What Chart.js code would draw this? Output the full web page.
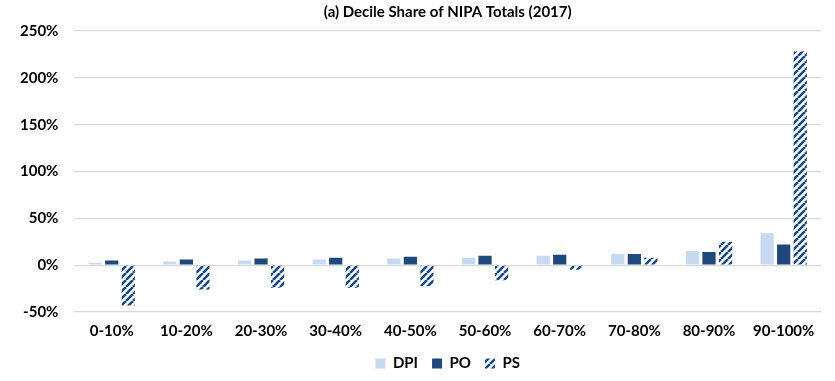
<!DOCTYPE html>
<html>
<head>
<meta charset="utf-8">
<script src="https://cdn.jsdelivr.net/npm/chart.js@4.4.1/dist/chart.umd.min.js"></script>
<style>
  html, body { margin:0; padding:0; background:#fff; }
  #wrap { width:835px; height:381px; }
</style>
</head>
<body>
<div id="wrap"><canvas id="chart" width="835" height="381"></canvas></div>
<script>
const deciles = ['0-10%','10-20%','20-30%','30-40%','40-50%','50-60%','60-70%','70-80%','80-90%','90-100%'];
const dpiShare = [2.5, 4, 5, 6, 7, 8, 10, 12, 15, 34];
const poShare  = [5, 6, 7, 8, 9, 10, 11, 12, 14, 22];
const psShare  = [-43, -26, -24, -24, -22.5, -16, -5, 8, 25, 228];
const yTicks = [-50, 0, 50, 100, 150, 200, 250];

const lightBlue = '#c6d9f0';
const navy = '#1f497d';
const font = 'Lato, "Liberation Sans", sans-serif';

// diagonal stripe fill like Excel's wide upward diagonal
function stripes() {
  const c = document.createElement('canvas');
  const s = 7;
  c.width = s; c.height = s;
  const g = c.getContext('2d');
  g.fillStyle = '#fff';
  g.fillRect(0, 0, s, s);
  g.strokeStyle = navy;
  g.lineWidth = 2.6;
  g.beginPath();
  for (let k = -1; k <= 1; k++) {
    g.moveTo(k * s, s);
    g.lineTo(k * s + s, 0);
  }
  g.stroke();
  return g.createPattern(c, 'repeat');
}
const hatch = stripes();

new Chart(document.getElementById('chart'), {
  type: 'bar',
  data: {
    labels: deciles,
    datasets: [
      {label:'DPI', data:dpiShare, backgroundColor:lightBlue},
      {label:'PO', data:poShare, backgroundColor:navy},
      {label:'PS', data:psShare, backgroundColor:hatch}
    ]
  },
  options: {
    responsive: false,
    animation: false,
    categoryPercentage: 0.665,
    barPercentage: 0.8,
    layout: {padding:{left:4, right:14, top:0, bottom:0}},
    plugins: {
      title: {
        display: true,
        text: '(a) Decile Share of NIPA Totals (2017)',
        fullSize: false,
        color: '#000',
        font: {family:font, size:15, weight:'bold'},
        padding: {top:3, bottom:10}
      },
      legend: {
        position: 'bottom',
        fullSize: false,
        labels: {
          color: '#000',
          font: {family:font, size:15, weight:'bold'},
          boxWidth: 10,
          boxHeight: 10,
          padding: 14
        }
      },
      tooltip: {enabled:false}
    },
    scales: {
      x: {
        grid: {display:false},
        border: {display:false},
        ticks: {color:'#000', font:{family:font, size:15, weight:'bold'}, padding:2, maxRotation:0}
      },
      y: {
        min: -50,
        max: 250,
        afterBuildTicks: axis => { axis.ticks = yTicks.map(v => ({value:v})); },
        grid: {color:'#d9d9d9', lineWidth:1.2, drawTicks:false},
        border: {display:false},
        ticks: {color:'#000', font:{family:font, size:15, weight:'bold'}, padding:16, callback: v => v + '%'}
      }
    }
  }
});
</script>
</body>
</html>
